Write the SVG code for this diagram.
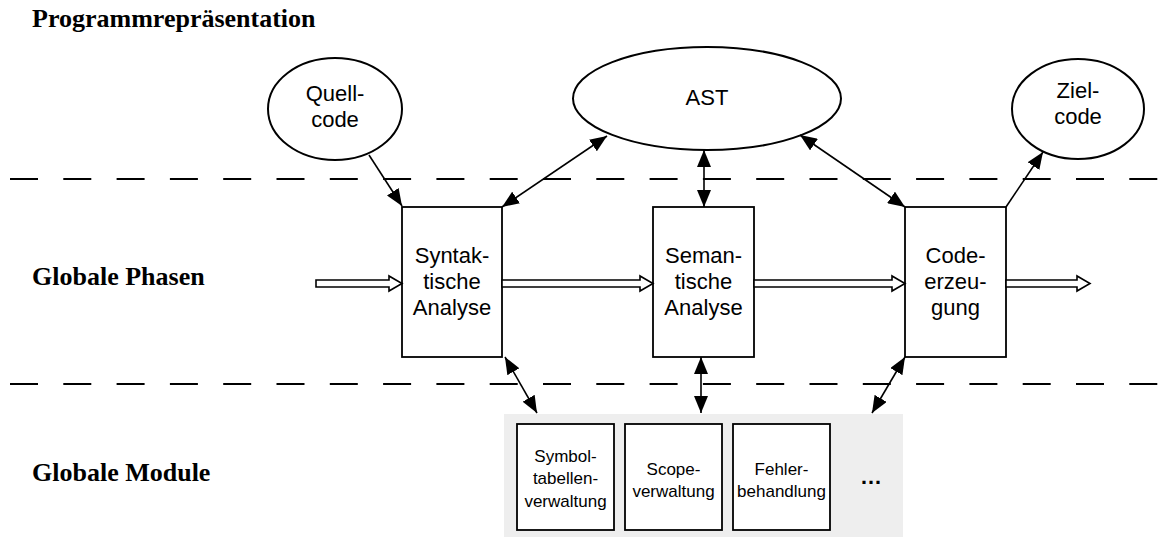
<svg xmlns="http://www.w3.org/2000/svg" width="1158" height="537" viewBox="0 0 1158 537">
<style>
.lbl{font-family:"Liberation Serif","Times New Roman",serif;font-weight:bold;font-size:26px;fill:#000}
.t{font-family:"Liberation Sans",Arial,sans-serif;font-size:22px;fill:#000;text-anchor:middle}
.s{font-family:"Liberation Sans",Arial,sans-serif;font-size:17px;fill:#000;text-anchor:middle}
.ell{fill:#fff;stroke:#000;stroke-width:2}
.box{fill:#fff;stroke:#000;stroke-width:1.8}
.dash{stroke:#000;stroke-width:2;stroke-dasharray:28 25.3;fill:none}
.con{stroke:#000;stroke-width:1.6;fill:none}
.hollow{fill:#fff;stroke:#000;stroke-width:1.6;stroke-linejoin:miter}
</style>
<defs>
<marker id="ah" markerUnits="userSpaceOnUse" markerWidth="18" markerHeight="14" refX="17" refY="7" orient="auto-start-reverse" viewBox="0 0 18 14">
<path d="M0,0 L17,7 L0,14 z" fill="#000"/>
</marker>
</defs>
<rect width="1158" height="537" fill="#fff"/>
<text class="lbl" x="32" y="27">Programmrepräsentation</text>
<text class="lbl" x="32" y="285">Globale Phasen</text>
<text class="lbl" x="32" y="481">Globale Module</text>
<line class="dash" x1="10" y1="179" x2="1158" y2="179"/>
<line class="dash" x1="10" y1="384" x2="1158" y2="384"/>
<g id="modules-bg"><rect x="504" y="414" width="399" height="123" fill="#eeeeee"/></g>
<g id="quellcode"><ellipse class="ell" cx="335" cy="109" rx="67" ry="51"/><text class="t" x="335" y="101">Quell-</text><text class="t" x="335" y="127">code</text></g>
<g id="ast"><ellipse class="ell" cx="707" cy="98.5" rx="134" ry="51.5"/><text class="t" x="707" y="105">AST</text></g>
<g id="zielcode"><ellipse class="ell" cx="1078" cy="109" rx="66" ry="50"/><text class="t" x="1078" y="98">Ziel-</text><text class="t" x="1078" y="124">code</text></g>
<g id="syntax"><rect class="box" x="402" y="207" width="100" height="150"/><text class="t" x="452" y="263">Syntak-</text><text class="t" x="452" y="289">tische</text><text class="t" x="452" y="315">Analyse</text></g>
<g id="semantik"><rect class="box" x="653" y="207" width="101" height="150"/><text class="t" x="703.5" y="263">Seman-</text><text class="t" x="703.5" y="289">tische</text><text class="t" x="703.5" y="315">Analyse</text></g>
<g id="codegen"><rect class="box" x="905" y="207" width="101" height="150"/><text class="t" x="955.5" y="263">Code-</text><text class="t" x="955.5" y="289">erzeu-</text><text class="t" x="955.5" y="315">gung</text></g>
<g id="symtab"><rect class="box" x="517" y="424" width="97" height="106"/><text class="s" x="565.5" y="462">Symbol-</text><text class="s" x="565.5" y="484">tabellen-</text><text class="s" x="565.5" y="507">verwaltung</text></g>
<g id="scope"><rect class="box" x="625" y="424" width="97" height="106"/><text class="s" x="673.5" y="475">Scope-</text><text class="s" x="673.5" y="497">verwaltung</text></g>
<g id="fehler"><rect class="box" x="733" y="424" width="97" height="106"/><text class="s" x="781.5" y="475">Fehler-</text><text class="s" x="781.5" y="497">behandlung</text></g>
<g id="more"><text class="s" x="871" y="484" style="font-weight:bold;font-size:22px">…</text></g>
<g id="connectors">
<path class="hollow" d="M316,280 L389,280 L389,276 L402,283.5 L389,291 L389,287 L316,287 Z"/>
<path class="hollow" d="M502,280 L640,280 L640,276 L653,283.5 L640,291 L640,287 L502,287 Z"/>
<path class="hollow" d="M754,280 L892,280 L892,276 L905,283.5 L892,291 L892,287 L754,287 Z"/>
<path class="hollow" d="M1006,280 L1077,280 L1077,276 L1090,283.5 L1077,291 L1077,287 L1006,287 Z"/>
<line class="con" x1="369" y1="155" x2="402" y2="206" marker-end="url(#ah)"/>
<line class="con" x1="607" y1="136" x2="502" y2="207" marker-start="url(#ah)" marker-end="url(#ah)"/>
<line class="con" x1="704" y1="150" x2="704" y2="207" marker-start="url(#ah)" marker-end="url(#ah)"/>
<line class="con" x1="800" y1="135" x2="905" y2="207" marker-start="url(#ah)" marker-end="url(#ah)"/>
<line class="con" x1="1006" y1="207" x2="1043" y2="152" marker-end="url(#ah)"/>
<line class="con" x1="505" y1="357" x2="537" y2="413" marker-start="url(#ah)" marker-end="url(#ah)"/>
<line class="con" x1="701" y1="357" x2="701" y2="413" marker-start="url(#ah)" marker-end="url(#ah)"/>
<line class="con" x1="905" y1="357" x2="872" y2="413" marker-start="url(#ah)" marker-end="url(#ah)"/>
</g>
</svg>
